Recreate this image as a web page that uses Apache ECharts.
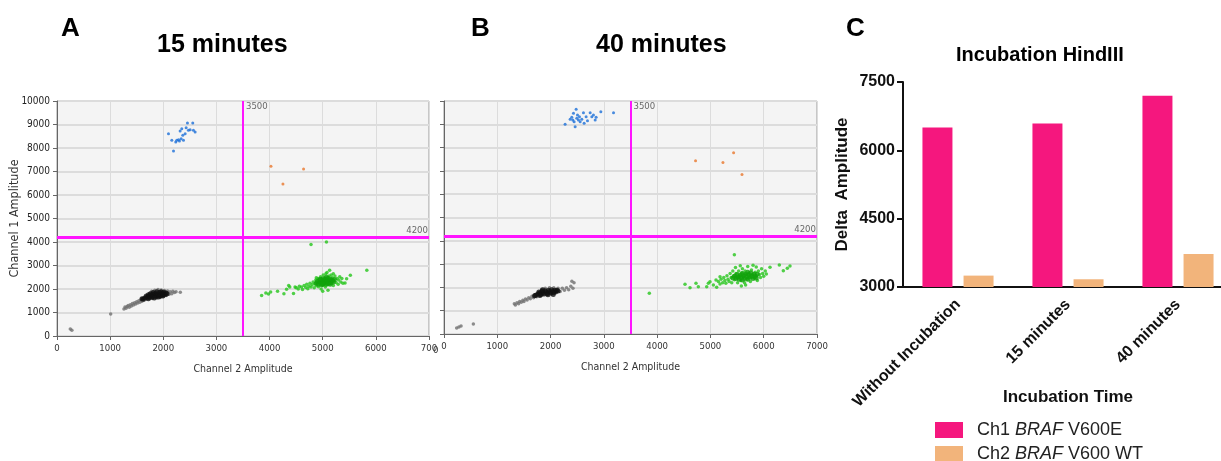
<!DOCTYPE html>
<html><head><meta charset="utf-8">
<script src="https://cdn.jsdelivr.net/npm/echarts@6/dist/echarts.min.js"></script>
<style>html,body{margin:0;padding:0;background:#fff}#c{width:1221px;height:461px}</style>
</head><body><div id="c"></div>
<script>
// ---------- DATA ----------
const ch2TickLabelsA = ['0','1000','2000','3000','4000','5000','6000','700'];
const ch2TickLabelsB = ['0','1000','2000','3000','4000','5000','6000','7000'];
const thresholdA = {ch2: 3500, ch1: 4200};
const thresholdB = {ch2: 3500, ch1: 4200};

// Panel A (15 minutes) droplets [Ch2, Ch1]
const blueA = [[2098,8610],[2160,8326],[2192,7872],[2235,8255],[2286,8355],[2317,8723],[2348,8823],[2367,8539],[2380,8326],[2411,8610],[2430,8865],[2455,9064],[2473,8752],[2505,8780],[2555,9064],[2567,8752],[2599,8681],[2304,8298],[2254,8326],[2336,8397]];
const orangeA = [[4026,7220],[4252,6468],[4640,7106]];
const greenA = [[3850,1720],[3930,1830],[3980,1790],[4020,1870],[4150,1900],[4270,1800],[4320,1990],[4360,2150],[4380,2090],[4450,1810],[4480,2080],[4780,3890],[5070,4000],[5420,2260],[5450,2440],[5520,2590],[5830,2800],
[4500,2050],[4540,2000],[4560,2120],[4600,2080],[4620,1980],[4650,2150],[4680,2060],[4700,2200],[4720,2010],[4740,2120],[4760,2250],[4780,2080],[4800,2180],[4820,2300],[4840,2050],[4850,2220],[4870,2380],[4880,2140],[4900,2260],[4910,2450],[4920,2100],[4940,2330],[4950,2200],[4960,2520],[4970,2000],[4980,2280],[4990,2400],[5000,2150],[5010,2600],[5020,2330],[5030,2220],[5040,2480],[5050,2080],[5060,2380],[5070,2280],[5080,2700],[5090,2180],[5100,2430],[5110,2320],[5120,2550],[5130,2800],[5140,2220],[5150,2400],[5160,2600],[5170,2300],[5180,2480],[5200,2150],[5210,2380],[5230,2550],[5250,2280],[5270,2450],[5290,2200],[5300,2380],[5320,2520],[5340,2300],[5360,2450],[5380,2250],[5100,1950],[5000,1900],[4880,2480],[5060,2650],[5200,2650]];
const greenCoreA = [[4880,2250],[4900,2320],[4920,2200],[4940,2380],[4960,2280],[4980,2180],[5000,2350],[5010,2440],[5020,2250],[5040,2320],[5050,2400],[5060,2200],[5080,2300],[5090,2380],[5100,2460],[5110,2250],[5130,2340],[5150,2420],[5160,2280],[5180,2360],[5200,2300],[5220,2400],[4960,2420],[5000,2220],[5070,2500],[5140,2200]];
const blackA = [[1260,1150],[1280,1230],[1300,1180],[1320,1260],[1340,1300],[1360,1220],[1380,1330],[1400,1280],[1420,1380],[1440,1320],[1460,1420],[1480,1360],[1500,1460],[1520,1400],[1540,1500],[1560,1440],[1580,1540],[1600,1480],[1620,1600],[1640,1520],[1660,1650],[1680,1560],[1700,1720],[1720,1600],[1740,1820],[1760,1650],[1780,1900],[1800,1600],[1840,1950],[1880,1620],[1900,1980],[1940,1640],[1960,1960],[2000,1680],[2020,1940],[2060,1720],[2080,1920],[2110,1780],[2130,1880],[2160,1800],[2180,1900],[2210,1850],[2240,1880],[2320,1860],[1010,940],[250,300],[280,240]];
const blackCoreA = [[1680,1700],[1700,1650],[1720,1760],[1740,1700],[1750,1640],[1760,1800],[1780,1720],[1790,1660],[1800,1780],[1810,1850],[1820,1700],[1830,1620],[1840,1760],[1850,1820],[1860,1680],[1870,1750],[1880,1880],[1890,1720],[1900,1800],[1910,1660],[1920,1760],[1930,1850],[1940,1700],[1950,1790],[1960,1880],[1970,1740],[1980,1820],[1990,1700],[2000,1780],[2010,1860],[2030,1760],[2050,1830],[2070,1800],[1720,1580],[1650,1620],[1620,1560],[1600,1580]];

// Panel B (40 minutes) droplets [Ch2, Ch1]
const blueB = [[2273,8997],[2367,9212],[2398,9298],[2430,9470],[2442,9112],[2461,8897],[2480,9642],[2492,9255],[2523,9183],[2542,9327],[2555,9112],[2586,9212],[2617,9499],[2630,9040],[2667,9327],[2693,9155],[2743,9499],[2774,9327],[2805,9398],[2837,9183],[2855,9298],[2943,9542],[3181,9499],[2417,9183],[2505,9398]];
const orangeB = [[4721,7436],[5235,7364],[5435,7779],[5592,6848]];
const greenB = [[3853,1745],[5449,3404],[4523,2132],[4617,1990],[4729,2175],[4773,2032],[4930,2032],[4961,2175],[4992,2246],[5055,2103],[5117,2003],[5105,2318],[5180,2460],[6118,2862],[6293,2960],[6368,2718],[6443,2818],[6493,2917],
[5150,2250],[5180,2150],[5200,2350],[5230,2200],[5250,2420],[5270,2300],[5290,2180],[5310,2500],[5330,2350],[5350,2250],[5370,2600],[5390,2420],[5400,2200],[5420,2700],[5440,2500],[5450,2330],[5470,2850],[5480,2600],[5500,2400],[5510,2200],[5530,2700],[5550,2500],[5560,2930],[5570,2300],[5590,2620],[5600,2800],[5620,2450],[5640,2200],[5650,2700],[5670,2550],[5690,2350],[5700,2900],[5720,2620],[5740,2450],[5750,2250],[5770,2750],[5790,2550],[5800,2950],[5820,2400],[5840,2650],[5860,2500],[5880,2300],[5900,2700],[5920,2550],[5940,2420],[5960,2800],[5980,2600],[6000,2480],[6030,2700],[6050,2580],[5860,2880],[5660,2100],[5580,2060]];
const greenCoreB = [[5420,2400],[5450,2480],[5480,2380],[5500,2550],[5520,2450],[5540,2350],[5560,2520],[5580,2420],[5600,2600],[5620,2500],[5640,2380],[5660,2560],[5680,2460],[5700,2350],[5720,2540],[5740,2440],[5760,2620],[5780,2480],[5800,2380],[5820,2560],[5840,2470],[5860,2400],[5880,2560],[5600,2320],[5700,2650]];
const blackB = [[1320,1300],[1340,1250],[1370,1340],[1400,1300],[1420,1400],[1450,1360],[1480,1450],[1500,1400],[1530,1500],[1560,1460],[1590,1560],[1620,1510],[1650,1620],[1680,1560],[1710,1680],[1740,1600],[1770,1760],[1800,1640],[1830,1900],[1860,1680],[1900,1960],[1940,1700],[1980,1980],[2020,1720],[2060,1980],[2100,1760],[2140,1960],[2180,1820],[2220,1960],[2260,1880],[2300,1990],[2340,1900],[2380,2050],[2420,1960],[2440,2200],[2400,2260],[238,258],[280,300],[320,340],[551,430]];
const blackCoreB = [[1760,1720],[1780,1800],[1800,1760],[1820,1700],[1840,1840],[1860,1780],[1880,1720],[1900,1860],[1920,1800],[1940,1740],[1960,1880],[1980,1820],[2000,1760],[2020,1900],[2040,1840],[2060,1780],[2080,1880],[2100,1820],[2120,1880],[2140,1850],[1850,1900],[1950,1680],[2050,1700],[1800,1650],[1720,1660],[1700,1640]];

// Panel C bar chart
const incubationCategories = ['Without Incubation','15 minutes','40 minutes'];
const ch1Delta = [6500, 6590, 7200];
const ch2Delta = [3250, 3170, 3725];
const legendNames = ['Ch1 BRAF V600E','Ch2 BRAF V600 WT'];

// ---------- CHART ----------
const FN = "'DejaVu Sans Condensed','Liberation Sans',sans-serif";
const FA = "'Liberation Sans',Arial,sans-serif";
const chart = echarts.init(document.getElementById('c'), null, {renderer:'canvas'});
const plain = v => String(v);

function scatterX(gi, labels){
  return {gridIndex:gi, type:'value', min:0, max:7000, interval:1000,
    name:'Channel 2 Amplitude', nameLocation:'middle', nameGap:28, nameMoveOverlap:false,
    nameTextStyle:{fontFamily:FN, fontSize:10.5, color:'#333'},
    axisLine:{show:true, onZero:false, lineStyle:{color:'#666', width:1}},
    axisTick:{show:true, length:4, lineStyle:{color:'#666'}},
    axisLabel:{fontFamily:FN, fontSize:9.5, color:'#333', margin:8, showMaxLabel:true, showMinLabel:true,
      hideOverlap:false, formatter: v => labels[Math.round(v/1000)]},
    splitLine:{show:true, lineStyle:{color:'#dcdcdc', width:1}}};
}
function scatterY(gi, showLabels){
  return {gridIndex:gi, type:'value', min:0, max:10000, interval:1000,
    name: showLabels ? 'Channel 1 Amplitude' : '', nameLocation:'middle', nameGap:36, nameMoveOverlap:false,
    nameTextStyle:{fontFamily:FN, fontSize:12.5, color:'#333'},
    axisLine:{show:true, onZero:false, lineStyle:{color:'#666', width:1}},
    axisTick:{show:true, length:4, lineStyle:{color:'#666'}},
    axisLabel:{show:showLabels, fontFamily:FN, fontSize:10, color:'#222', margin:7, formatter:plain},
    splitLine:{show:true, lineStyle:{color:'#dcdcdc', width:2}}};
}
function pts(gi, data, color, size){
  return {type:'scatter', xAxisIndex:gi, yAxisIndex:gi, data:data, symbolSize:size||3,
    itemStyle:{color:color}, silent:true, z:3};
}
function thresholds(gi, thr){
  return [
    {type:'scatter', xAxisIndex:gi, yAxisIndex:gi, data:[[thr.ch2, 10000]], symbolSize:0.1,
      itemStyle:{color:'transparent'}, silent:true, z:5,
      label:{show:true, formatter:p=>p.value[0], position:[3,1], align:'left', verticalAlign:'top',
        fontFamily:FN, fontSize:9.5, color:'#444'},
      markLine:{silent:true, symbol:'none', animation:false, label:{show:false},
        data:[{xAxis:thr.ch2, lineStyle:{color:'#ff14ff', width:2, type:'solid'}},
              {yAxis:thr.ch1, lineStyle:{color:'#ff14ff', width:3, type:'solid'}}]}},
    {type:'scatter', xAxisIndex:gi, yAxisIndex:gi, data:[[7000, thr.ch1]], symbolSize:0.1,
      itemStyle:{color:'transparent'}, silent:true, z:5,
      label:{show:true, formatter:p=>p.value[1], position:[-1,-2], align:'right', verticalAlign:'bottom',
        fontFamily:FN, fontSize:9.5, color:'#444'}}
  ];
}

const boldTitle = (text, left, top, size) => ({text, left, top,
  textStyle:{fontFamily:FA, fontWeight:'bold', fontSize:size, color:'#000'}});

const legendItem = (name, top) => ({data:[name], orient:'vertical', left:935, top:top, padding:0,
  itemWidth:28, itemHeight:16, icon:'rect', selectedMode:false,
  formatter: n => n.replace('BRAF', '{i|BRAF}'),
  textStyle:{fontFamily:FA, fontSize:18, color:'#222', padding:[0,0,0,9],
    rich:{i:{fontFamily:FA, fontStyle:'italic', fontSize:18, color:'#222'}}}});

const option = {
  animation:false,
  backgroundColor:'#ffffff',
  title:[
    boldTitle('A', 56, 11, 26), boldTitle('15 minutes', 152, 28, 25),
    boldTitle('B', 466, 11, 26), boldTitle('40 minutes', 591, 28, 25),
    boldTitle('C', 841, 11, 26), boldTitle('Incubation HindIII', 951, 40, 20)
  ],
  grid:[
    {left:57, top:101, width:372, height:235, show:true, backgroundColor:'#f4f4f4', borderColor:'#9a9a9a', borderWidth:1, containLabel:false, outerBoundsMode:'none'},
    {left:444, top:101, width:373, height:233, show:true, backgroundColor:'#f4f4f4', borderColor:'#9a9a9a', borderWidth:1, containLabel:false, outerBoundsMode:'none'},
    {left:903, top:82, width:330, height:205, containLabel:false, outerBoundsMode:'none'}
  ],
  xAxis:[
    scatterX(0, ch2TickLabelsA),
    scatterX(1, ch2TickLabelsB),
    {gridIndex:2, type:'category', data:incubationCategories,
      name:'Incubation Time', nameLocation:'middle', nameGap:102, nameMoveOverlap:false,
      nameTextStyle:{fontFamily:FA, fontWeight:'bold', fontSize:17, color:'#111'},
      axisLine:{lineStyle:{color:'#111', width:2}},
      axisTick:{alignWithLabel:true, length:6, lineStyle:{color:'#111', width:2}},
      axisLabel:{rotate:45, interval:0, fontFamily:FA, fontWeight:'bold', fontSize:16, color:'#111', margin:15}}
  ],
  yAxis:[
    scatterY(0, true),
    scatterY(1, false),
    {gridIndex:2, type:'value', min:3000, max:7500, interval:1500,
      name:'Delta  Amplitude', nameLocation:'middle', nameGap:52, nameMoveOverlap:false,
      nameTextStyle:{fontFamily:FA, fontWeight:'bold', fontSize:17, color:'#111'},
      axisLine:{show:true, lineStyle:{color:'#111', width:2}},
      axisTick:{show:true, length:6, lineStyle:{color:'#111', width:2}},
      axisLabel:{fontFamily:FA, fontWeight:'bold', fontSize:16, color:'#111', margin:8, formatter:plain},
      splitLine:{show:false}}
  ],
  legend:[legendItem(legendNames[0], 421), legendItem(legendNames[1], 445)],
  graphic:[{type:'text', left:433, top:346, silent:true,
    style:{text:'0', font:"9.5px 'DejaVu Sans Condensed',sans-serif", fill:'#333'}}],
  series:[
    pts(0, blackA, '#707070', 3.5), pts(0, blackCoreA, '#111111', 5),
    pts(0, greenA, '#25c61c', 3.5), pts(0, greenCoreA, '#12a20c', 5),
    pts(0, blueA, '#1b6fd8', 3), pts(0, orangeA, '#e8772c', 3),
    ...thresholds(0, thresholdA),
    pts(1, blackB, '#707070', 3.5), pts(1, blackCoreB, '#111111', 5),
    pts(1, greenB, '#25c61c', 3.5), pts(1, greenCoreB, '#12a20c', 5),
    pts(1, blueB, '#1b6fd8', 3), pts(1, orangeB, '#e8772c', 3),
    ...thresholds(1, thresholdB),
    {name:legendNames[0], type:'bar', xAxisIndex:2, yAxisIndex:2, data:ch1Delta, barWidth:30, barGap:'37%',
      itemStyle:{color:'#f5177e'}, silent:true},
    {name:legendNames[1], type:'bar', xAxisIndex:2, yAxisIndex:2, data:ch2Delta, barWidth:30, barGap:'37%',
      itemStyle:{color:'#f2b47b'}, silent:true}
  ]
};
chart.setOption(option);
</script>
</body></html>
